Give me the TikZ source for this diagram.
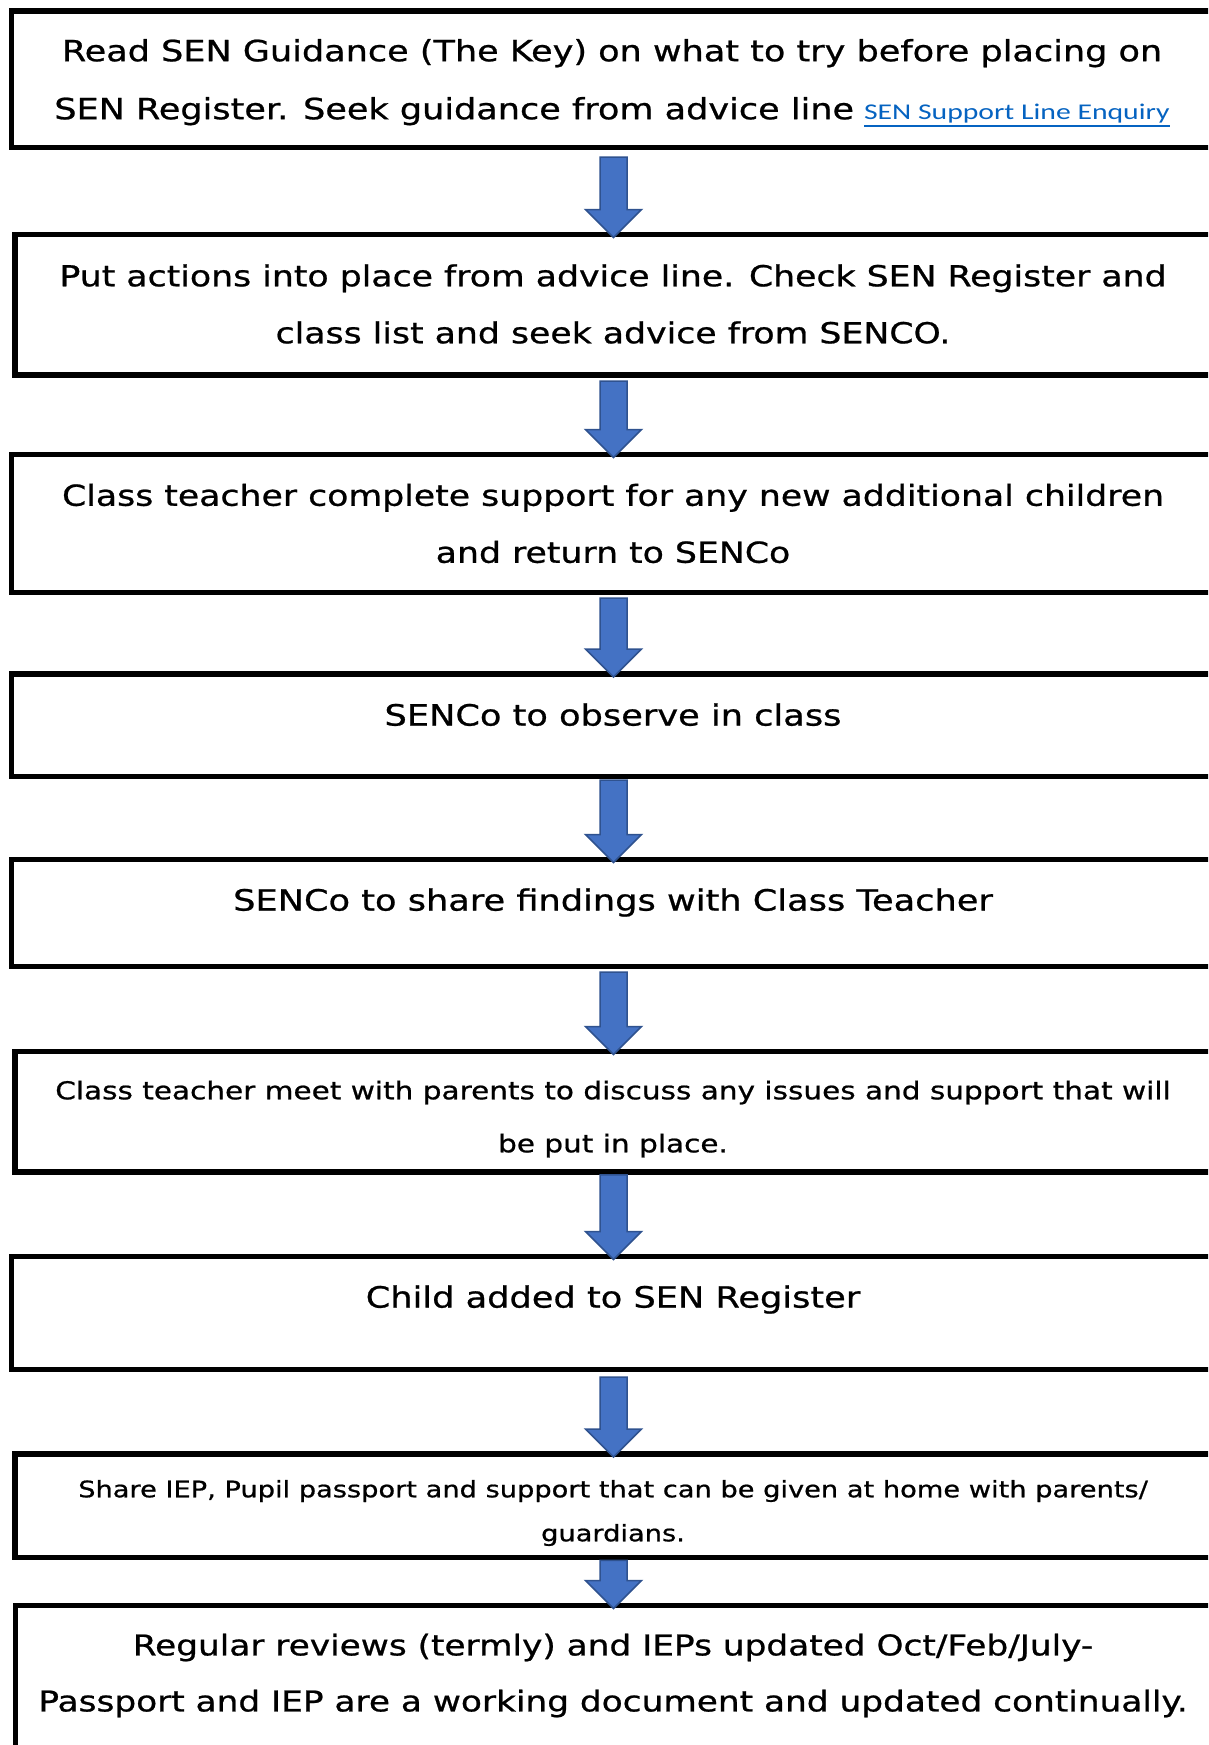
\documentclass[tikz,border=0pt]{standalone}
\usepackage{fontspec}
\setmainfont[FakeStretch=1.2,FakeBold=0.8]{DejaVu Sans}
\newfontfamily\linkfont[FakeStretch=1.32]{Carlito}
\usetikzlibrary{calc}
\definecolor{arrowfill}{HTML}{4472C4}
\definecolor{arrowedge}{HTML}{2F528F}
\definecolor{linkblue}{HTML}{0563C1}
\newcommand\linkul[1]{\vtop{\hbox{#1}\kern2.5pt\hrule height 1.6pt}}
% block arrow from node #1 (bottom) to node #2 (top); #3 gap below #1, #4 overlap into #2
\newcommand\flowarrow[4]{%
  \path[flowarr] let \p1=(#1.south), \p2=(#2.north) in
    (\x1-13.5pt,\y1-#3pt) -- (\x1+13.5pt,\y1-#3pt) -- (\x1+13.5pt,\y2-#4pt+28pt)
    -- (\x1+28pt,\y2-#4pt+28pt) -- (\x1,\y2-#4pt) -- (\x1-28pt,\y2-#4pt+28pt)
    -- (\x1-13.5pt,\y2-#4pt+28pt) -- cycle;}
\tikzset{
  box/.style={draw=black, line width=5.5pt, fill=white, inner sep=0pt},
  flowarr/.style={fill=arrowfill, draw=arrowedge, line width=1.5pt, line join=miter},
  txtmain/.style={align=center, inner sep=0pt, font=\fontsize{28.9}{57}\selectfont},
  oneline/.style={text height=21.3pt, text depth=6.1pt, font=\fontsize{29.3}{57}\selectfont},
  txtmid/.style={align=center, inner sep=0pt, font=\fontsize{24.6}{53}\selectfont},
  txtsmall/.style={align=center, inner sep=0pt, font=\fontsize{22.7}{44}\selectfont}
}
\begin{document}
\begin{tikzpicture}[x=1pt,y=-1pt]
\useasboundingbox (0,0) rectangle (1208,1745);
\clip (0,0) rectangle (1208,1745);
\fill[white] (0,0) rectangle (1208,1745);
% boxes
\node[box, minimum width=1204pt, minimum height=136.5pt] (b1) at (613.5,79.25) {};
\node[box, minimum width=1197pt, minimum height=140.5pt] (b2) at (613.5,304.75) {};
\node[box, minimum width=1204pt, minimum height=138pt] (b3) at (613.5,523.5) {};
\node[box, minimum width=1204pt, minimum height=102.5pt] (b4) at (613.5,725.25) {};
\node[box, minimum width=1204pt, minimum height=107pt] (b5) at (613.5,913) {};
\node[box, minimum width=1197pt, minimum height=120.5pt] (b6) at (613.5,1111.75) {};
\node[box, minimum width=1204pt, minimum height=113pt] (b7) at (613.5,1313) {};
\node[box, minimum width=1197pt, minimum height=103.5pt] (b8) at (613.5,1505.75) {};
\node[box, minimum width=1196pt, minimum height=164.5pt] (b9) at (613.5,1687.75) {};
% arrows
\flowarrow{b1}{b2}{6.75}{5.75}
\flowarrow{b2}{b3}{3.25}{5.75}
\flowarrow{b3}{b4}{2.75}{5.75}
\flowarrow{b4}{b5}{0.75}{5.75}
\flowarrow{b5}{b6}{2.75}{5.75}
\flowarrow{b6}{b7}{0}{5.75}
\flowarrow{b7}{b8}{4.75}{5.75}
\flowarrow{b8}{b9}{0}{5.75}
% texts
\node[txtmain, font=\fontsize{29.2}{58}\selectfont] (t1) at (612,83) {Read SEN Guidance (The Key) on what to try before placing on\\SEN Register. Seek guidance from advice line\hspace{10pt}{\linkfont\fontsize{22.5}{40}\selectfont\color{linkblue}\linkul{SEN Support Line Enquiry}}};
\node[txtmain] (t2) at (613,304) {Put actions into place from advice line. Check SEN Register and\\class list and seek advice from SENCO.};
\node[txtmain] (t3) at (613,523.5) {Class teacher complete support for any new additional children\\and return to SENCo};
\node[txtmain, oneline] (t4) at (613,718) {SENCo to observe in class};
\node[txtmain, oneline] (t5) at (613,903) {SENCo to share findings with Class Teacher};
\node[txtmid] (t6) at (613,1119) {Class teacher meet with parents to discuss any issues and support that will\\be put in place.};
\node[txtmain, oneline] (t7) at (613,1300) {Child added to SEN Register};
\node[txtsmall] (t8) at (613,1513) {Share IEP, Pupil passport and support that can be given at home with parents/\\guardians.};
\node[txtmain, font=\fontsize{28.6}{56}\selectfont] (t9) at (613,1675.5) {Regular reviews (termly) and IEPs updated Oct/Feb/July-\\Passport and IEP are a working document and updated continually.};
\end{tikzpicture}
\end{document}
